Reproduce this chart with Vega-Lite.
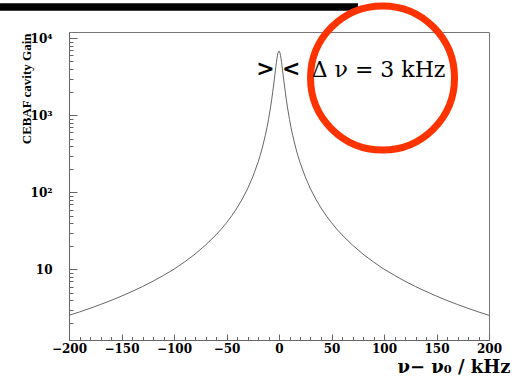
{
  "$schema": "https://vega.github.io/schema/vega-lite/v6.json",
  "width": 420,
  "height": 308,
  "autosize": {"type": "none"},
  "padding": {"left": 69, "top": 32, "right": 33, "bottom": 39},
  "background": "white",
  "config": {
    "view": {"stroke": "#777", "strokeWidth": 1},
    "axis": {"grid": false, "domainColor": "#666", "tickColor": "#666", "labelColor": "black", "titleColor": "black", "labelFlush": false, "labelOverlap": false}
  },
  "resolve": {"axis": {"x": "independent", "y": "independent"}},
  "layer": [
    {
      "data": {"values": [
        {"nu": -200, "gain": 2.54}, {"nu": -190, "gain": 2.81}, {"nu": -180, "gain": 3.13}, {"nu": -170, "gain": 3.51},
        {"nu": -160, "gain": 3.96}, {"nu": -150, "gain": 4.51}, {"nu": -140, "gain": 5.18}, {"nu": -130, "gain": 6.0},
        {"nu": -120, "gain": 7.04}, {"nu": -110, "gain": 8.38}, {"nu": -100, "gain": 10.1}, {"nu": -90, "gain": 12.5},
        {"nu": -80, "gain": 15.8}, {"nu": -70, "gain": 20.7}, {"nu": -60, "gain": 28.1}, {"nu": -55, "gain": 33.4},
        {"nu": -50, "gain": 40.4}, {"nu": -45, "gain": 49.8}, {"nu": -40, "gain": 62.9}, {"nu": -35, "gain": 81.9},
        {"nu": -30, "gain": 111}, {"nu": -25, "gain": 159}, {"nu": -20, "gain": 245}, {"nu": -18, "gain": 300},
        {"nu": -16, "gain": 375}, {"nu": -13, "gain": 552}, {"nu": -11.5, "gain": 690}, {"nu": -10, "gain": 884},
        {"nu": -8, "gain": 1288}, {"nu": -7, "gain": 1591}, {"nu": -6, "gain": 1998}, {"nu": -5, "gain": 2549},
        {"nu": -4, "gain": 3293}, {"nu": -3, "gain": 4263}, {"nu": -2.5, "gain": 4818}, {"nu": -2, "gain": 5394},
        {"nu": -1.5, "gain": 5947}, {"nu": -1, "gain": 6417}, {"nu": -0.5, "gain": 6736}, {"nu": 0, "gain": 6850},
        {"nu": 0.5, "gain": 6736}, {"nu": 1, "gain": 6417}, {"nu": 1.5, "gain": 5947}, {"nu": 2, "gain": 5394},
        {"nu": 2.5, "gain": 4818}, {"nu": 3, "gain": 4263}, {"nu": 4, "gain": 3293}, {"nu": 5, "gain": 2549},
        {"nu": 6, "gain": 1998}, {"nu": 7, "gain": 1591}, {"nu": 8, "gain": 1288}, {"nu": 10, "gain": 884},
        {"nu": 11.5, "gain": 690}, {"nu": 13, "gain": 552}, {"nu": 16, "gain": 375}, {"nu": 18, "gain": 300},
        {"nu": 20, "gain": 245}, {"nu": 25, "gain": 159}, {"nu": 30, "gain": 111}, {"nu": 35, "gain": 81.9},
        {"nu": 40, "gain": 62.9}, {"nu": 45, "gain": 49.8}, {"nu": 50, "gain": 40.4}, {"nu": 55, "gain": 33.4},
        {"nu": 60, "gain": 28.1}, {"nu": 70, "gain": 20.7}, {"nu": 80, "gain": 15.8}, {"nu": 90, "gain": 12.5},
        {"nu": 100, "gain": 10.1}, {"nu": 110, "gain": 8.38}, {"nu": 120, "gain": 7.04}, {"nu": 130, "gain": 6.0},
        {"nu": 140, "gain": 5.18}, {"nu": 150, "gain": 4.51}, {"nu": 160, "gain": 3.96}, {"nu": 170, "gain": 3.51},
        {"nu": 180, "gain": 3.13}, {"nu": 190, "gain": 2.81}, {"nu": 200, "gain": 2.54}
      ]},
      "mark": {"type": "line", "color": "#666", "strokeWidth": 1, "clip": true},
      "encoding": {
        "x": {
          "field": "nu", "type": "quantitative",
          "scale": {"domain": [-200, 200], "nice": false, "zero": false},
          "axis": {
            "orient": "bottom", "values": [-200, -150, -100, -50, 0, 50, 100, 150, 200],
            "tickSize": -6, "labelPadding": 9, "labelFont": "DejaVu Serif", "labelFontWeight": "bold", "labelFontSize": 12,
            "title": "ν− ν₀ / kHz", "titleFont": "DejaVu Serif", "titleFontWeight": "bold", "titleFontSize": 18,
            "titleAnchor": "end", "titleAlign": "right", "titleX": 441, "titleY": 32, "titleBaseline": "alphabetic"
          }
        },
        "y": {
          "field": "gain", "type": "quantitative",
          "scale": {"type": "log", "domain": [1.215, 12070], "nice": false},
          "axis": {
            "orient": "left", "values": [10, 100, 1000, 10000],
            "labelExpr": "datum.value == 10 ? '10' : datum.value == 100 ? '10²' : datum.value == 1000 ? '10³' : '10⁴'",
            "tickSize": -8, "labelPadding": 25, "labelFont": "DejaVu Serif", "labelFontWeight": "bold", "labelFontSize": 12,
            "title": "CEBAF cavity Gain", "titleFont": "Liberation Serif", "titleFontWeight": "bold", "titleFontSize": 13,
            "titleAngle": -90, "titleX": -39, "titleY": 1, "titleAlign": "right", "titleBaseline": "alphabetic"
          }
        }
      }
    },
    {
      "data": {"values": [{"x0": -265.7, "x1": 75.2, "y": 25500}]},
      "mark": {"type": "rule", "color": "black", "strokeWidth": 7.5, "strokeCap": "butt", "clip": false},
      "encoding": {
        "x": {
          "field": "x0", "type": "quantitative",
          "scale": {"domain": [-200, 200], "nice": false, "zero": false},
          "axis": {
            "orient": "bottom", "values": [-190, -180, -170, -160, -140, -130, -120, -110, -90, -80, -70, -60, -40, -30, -20, -10, 10, 20, 30, 40, 60, 70, 80, 90, 110, 120, 130, 140, 160, 170, 180, 190],
            "tickSize": -3.5, "labels": false, "domain": false, "title": null
          }
        },
        "x2": {"field": "x1"},
        "y": {
          "field": "y", "type": "quantitative",
          "scale": {"type": "log", "domain": [1.215, 12070], "nice": false},
          "axis": {
            "orient": "left", "values": [2, 3, 4, 5, 6, 7, 8, 9, 20, 30, 40, 50, 60, 70, 80, 90, 200, 300, 400, 500, 600, 700, 800, 900, 2000, 3000, 4000, 5000, 6000, 7000, 8000, 9000],
            "tickSize": -4, "labels": false, "domain": false, "title": null
          }
        }
      }
    },
    {
      "data": {"values": [{"x": 98.6, "y": 3053}]},
      "mark": {"type": "point", "shape": "circle", "filled": false, "stroke": "#ff3300", "strokeWidth": 7, "size": 20736, "opacity": 1, "clip": false},
      "encoding": {
        "x": {"field": "x", "type": "quantitative", "scale": {"domain": [-200, 200], "nice": false, "zero": false}, "axis": null},
        "y": {"field": "y", "type": "quantitative", "scale": {"type": "log", "domain": [1.215, 12070], "nice": false}, "axis": null}
      }
    },
    {
      "data": {"values": [{"x": 31.1, "y": 3175, "label": "Δ ν = 3 kHz"}]},
      "mark": {"type": "text", "font": "DejaVu Serif", "fontSize": 22, "align": "left", "baseline": "alphabetic", "color": "black", "clip": false},
      "encoding": {
        "x": {"field": "x", "type": "quantitative", "scale": {"domain": [-200, 200], "nice": false, "zero": false}, "axis": null},
        "y": {"field": "y", "type": "quantitative", "scale": {"type": "log", "domain": [1.215, 12070], "nice": false}, "axis": null},
        "text": {"field": "label"}
      }
    },
    {
      "data": {"values": [{"x": -12.9, "y": 4000, "label": ">"}, {"x": 11.6, "y": 4000, "label": "<"}]},
      "mark": {"type": "text", "font": "DejaVu Serif", "fontSize": 22, "fontWeight": "bold", "align": "center", "baseline": "middle", "color": "black", "clip": false},
      "encoding": {
        "x": {"field": "x", "type": "quantitative", "scale": {"domain": [-200, 200], "nice": false, "zero": false}, "axis": null},
        "y": {"field": "y", "type": "quantitative", "scale": {"type": "log", "domain": [1.215, 12070], "nice": false}, "axis": null},
        "text": {"field": "label"}
      }
    }
  ]
}
